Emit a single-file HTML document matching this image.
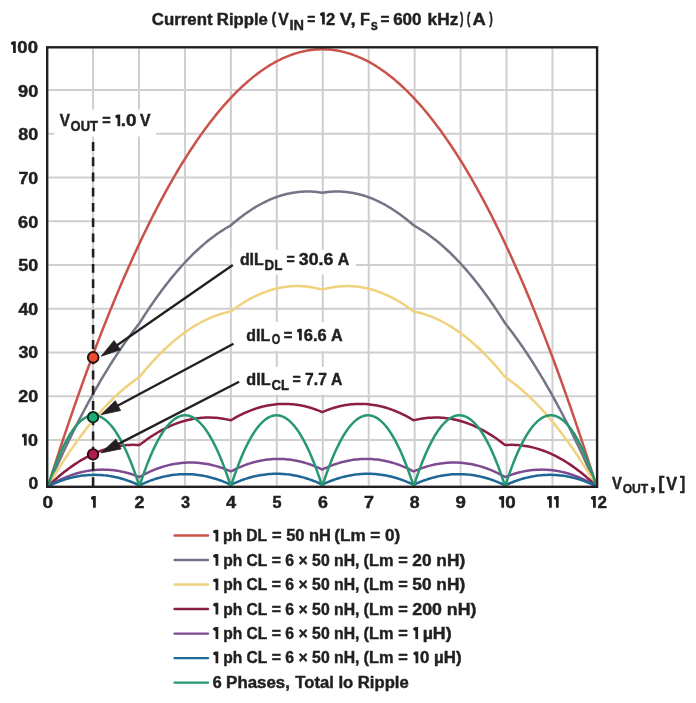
<!DOCTYPE html>
<html><head><meta charset="utf-8"><style>
html,body{margin:0;padding:0;background:#fff;width:696px;height:703px;overflow:hidden}
svg{display:block;font-family:"Liberation Sans",sans-serif}
</style></head><body>
<svg width="696" height="703" viewBox="0 0 696 703">
<rect width="696" height="703" fill="#fff"/>
<path d="M48.3 440.00H596 M48.3 396.25H596 M48.3 352.50H596 M48.3 308.75H596 M48.3 265.00H596 M48.3 221.25H596 M48.3 177.50H596 M48.3 133.75H596 M48.3 90.00H596 M93.06 48.4V485.6 M139.00 48.4V485.6 M184.94 48.4V485.6 M230.88 48.4V485.6 M276.82 48.4V485.6 M322.76 48.4V485.6 M368.70 48.4V485.6 M414.64 48.4V485.6 M460.58 48.4V485.6 M506.52 48.4V485.6 M552.46 48.4V485.6" stroke="#cfcfcf" stroke-width="2" fill="none"/>
<rect x="54.3" y="109.5" width="101.70" height="27.00" fill="#fff"/>
<rect x="231.8" y="250.0" width="124.00" height="24.50" fill="#fff"/>
<rect x="232.5" y="322.0" width="119.50" height="29.00" fill="#fff"/>
<rect x="238.0" y="367.0" width="114.00" height="27.50" fill="#fff"/>
<path d="M48.00 486.30 L49.83 480.49 L51.66 474.72 L53.49 468.99 L55.31 463.30 L57.14 457.65 L58.97 452.04 L60.80 446.47 L62.63 440.93 L64.46 435.43 L66.28 429.98 L68.11 424.56 L69.94 419.18 L71.77 413.84 L73.60 408.53 L75.43 403.27 L77.25 398.05 L79.08 392.86 L80.91 387.71 L82.74 382.60 L84.57 377.54 L86.40 372.51 L88.22 367.51 L90.05 362.56 L91.88 357.65 L93.71 352.77 L95.54 347.94 L97.37 343.14 L99.20 338.38 L101.02 333.66 L102.85 328.98 L104.68 324.34 L106.51 319.74 L108.34 315.17 L110.17 310.65 L111.99 306.16 L113.82 301.71 L115.65 297.30 L117.48 292.93 L119.31 288.60 L121.14 284.31 L122.96 280.06 L124.79 275.84 L126.62 271.67 L128.45 267.53 L130.28 263.43 L132.11 259.37 L133.93 255.35 L135.76 251.37 L137.59 247.43 L139.42 243.52 L141.25 239.66 L143.08 235.83 L144.91 232.04 L146.73 228.30 L148.56 224.59 L150.39 220.91 L152.22 217.28 L154.05 213.69 L155.88 210.14 L157.70 206.62 L159.53 203.14 L161.36 199.71 L163.19 196.31 L165.02 192.95 L166.85 189.63 L168.67 186.34 L170.50 183.10 L172.33 179.90 L174.16 176.73 L175.99 173.60 L177.82 170.51 L179.64 167.46 L181.47 164.45 L183.30 161.48 L185.13 158.55 L186.96 155.66 L188.79 152.80 L190.62 149.98 L192.44 147.21 L194.27 144.47 L196.10 141.77 L197.93 139.11 L199.76 136.49 L201.59 133.90 L203.41 131.36 L205.24 128.85 L207.07 126.39 L208.90 123.96 L210.73 121.57 L212.56 119.22 L214.38 116.91 L216.21 114.64 L218.04 112.40 L219.87 110.21 L221.70 108.05 L223.53 105.94 L225.35 103.86 L227.18 101.82 L229.01 99.82 L230.84 97.86 L232.67 95.93 L234.50 94.05 L236.33 92.20 L238.15 90.40 L239.98 88.63 L241.81 86.90 L243.64 85.21 L245.47 83.56 L247.30 81.95 L249.12 80.38 L250.95 78.84 L252.78 77.35 L254.61 75.89 L256.44 74.47 L258.27 73.09 L260.09 71.75 L261.92 70.45 L263.75 69.19 L265.58 67.96 L267.41 66.78 L269.24 65.63 L271.06 64.53 L272.89 63.46 L274.72 62.43 L276.55 61.44 L278.38 60.49 L280.21 59.57 L282.04 58.70 L283.86 57.87 L285.69 57.07 L287.52 56.31 L289.35 55.59 L291.18 54.91 L293.01 54.27 L294.83 53.67 L296.66 53.11 L298.49 52.58 L300.32 52.10 L302.15 51.65 L303.98 51.24 L305.80 50.87 L307.63 50.54 L309.46 50.25 L311.29 50.00 L313.12 49.79 L314.95 49.61 L316.77 49.47 L318.60 49.38 L320.43 49.32 L322.26 49.30 L324.09 49.32 L325.92 49.38 L327.75 49.47 L329.57 49.61 L331.40 49.79 L333.23 50.00 L335.06 50.25 L336.89 50.54 L338.72 50.87 L340.54 51.24 L342.37 51.65 L344.20 52.10 L346.03 52.58 L347.86 53.11 L349.69 53.67 L351.51 54.27 L353.34 54.91 L355.17 55.59 L357.00 56.31 L358.83 57.07 L360.66 57.87 L362.48 58.70 L364.31 59.57 L366.14 60.49 L367.97 61.44 L369.80 62.43 L371.63 63.46 L373.46 64.53 L375.28 65.63 L377.11 66.78 L378.94 67.96 L380.77 69.19 L382.60 70.45 L384.43 71.75 L386.25 73.09 L388.08 74.47 L389.91 75.89 L391.74 77.35 L393.57 78.84 L395.40 80.38 L397.22 81.95 L399.05 83.56 L400.88 85.21 L402.71 86.90 L404.54 88.63 L406.37 90.40 L408.19 92.20 L410.02 94.05 L411.85 95.93 L413.68 97.86 L415.51 99.82 L417.34 101.82 L419.17 103.86 L420.99 105.94 L422.82 108.05 L424.65 110.21 L426.48 112.40 L428.31 114.64 L430.14 116.91 L431.96 119.22 L433.79 121.57 L435.62 123.96 L437.45 126.39 L439.28 128.85 L441.11 131.36 L442.93 133.90 L444.76 136.49 L446.59 139.11 L448.42 141.77 L450.25 144.47 L452.08 147.21 L453.90 149.98 L455.73 152.80 L457.56 155.66 L459.39 158.55 L461.22 161.48 L463.05 164.45 L464.88 167.46 L466.70 170.51 L468.53 173.60 L470.36 176.73 L472.19 179.90 L474.02 183.10 L475.85 186.34 L477.67 189.63 L479.50 192.95 L481.33 196.31 L483.16 199.71 L484.99 203.14 L486.82 206.62 L488.64 210.14 L490.47 213.69 L492.30 217.28 L494.13 220.91 L495.96 224.59 L497.79 228.30 L499.61 232.04 L501.44 235.83 L503.27 239.66 L505.10 243.52 L506.93 247.43 L508.76 251.37 L510.59 255.35 L512.41 259.37 L514.24 263.43 L516.07 267.53 L517.90 271.67 L519.73 275.84 L521.56 280.06 L523.38 284.31 L525.21 288.60 L527.04 292.93 L528.87 297.30 L530.70 301.71 L532.53 306.16 L534.35 310.65 L536.18 315.17 L538.01 319.74 L539.84 324.34 L541.67 328.98 L543.50 333.66 L545.32 338.38 L547.15 343.14 L548.98 347.94 L550.81 352.77 L552.64 357.65 L554.47 362.56 L556.30 367.51 L558.12 372.51 L559.95 377.54 L561.78 382.60 L563.61 387.71 L565.44 392.86 L567.27 398.05 L569.09 403.27 L570.92 408.53 L572.75 413.84 L574.58 419.18 L576.41 424.56 L578.24 429.98 L580.06 435.43 L581.89 440.93 L583.72 446.47 L585.55 452.04 L587.38 457.65 L589.21 463.30 L591.03 468.99 L592.86 474.72 L594.69 480.49 L596.52 486.30" stroke="#c9534a" stroke-width="2.5" fill="none" stroke-linejoin="round" stroke-linecap="round"/>
<path d="M48.00 486.30 L49.83 482.09 L51.66 477.92 L53.49 473.79 L55.31 469.70 L57.14 465.65 L58.97 461.64 L60.80 457.66 L62.63 453.72 L64.46 449.83 L66.28 445.97 L68.11 442.15 L69.94 438.36 L71.77 434.62 L73.60 430.91 L75.43 427.25 L77.25 423.62 L79.08 420.03 L80.91 416.48 L82.74 412.97 L84.57 409.49 L86.40 406.06 L88.22 402.66 L90.05 399.31 L91.88 395.99 L93.71 392.71 L95.54 389.46 L97.37 386.26 L99.20 383.10 L101.02 379.97 L102.85 376.88 L104.68 373.83 L106.51 370.82 L108.34 367.85 L110.17 364.92 L111.99 362.03 L113.82 359.17 L115.65 356.35 L117.48 353.57 L119.31 350.84 L121.14 348.13 L122.96 345.47 L124.79 342.85 L126.62 340.26 L128.45 337.72 L130.28 335.21 L132.11 332.74 L133.93 330.31 L135.76 327.91 L137.59 325.56 L139.42 323.25 L141.25 320.34 L143.08 317.48 L144.91 314.65 L146.73 311.87 L148.56 309.12 L150.39 306.41 L152.22 303.74 L154.05 301.11 L155.88 298.51 L157.70 295.96 L159.53 293.44 L161.36 290.96 L163.19 288.52 L165.02 286.12 L166.85 283.76 L168.67 281.44 L170.50 279.15 L172.33 276.91 L174.16 274.70 L175.99 272.53 L177.82 270.40 L179.64 268.31 L181.47 266.25 L183.30 264.24 L185.13 262.26 L186.96 260.33 L188.79 258.43 L190.62 256.57 L192.44 254.74 L194.27 252.96 L196.10 251.22 L197.93 249.51 L199.76 247.85 L201.59 246.22 L203.41 244.63 L205.24 243.08 L207.07 241.56 L208.90 240.09 L210.73 238.65 L212.56 237.26 L214.38 235.90 L216.21 234.58 L218.04 233.30 L219.87 232.06 L221.70 230.85 L223.53 229.69 L225.35 228.56 L227.18 227.47 L229.01 226.42 L230.84 225.41 L232.67 223.81 L234.50 222.25 L236.33 220.73 L238.15 219.25 L239.98 217.81 L241.81 216.40 L243.64 215.04 L245.47 213.71 L247.30 212.42 L249.12 211.17 L250.95 209.96 L252.78 208.78 L254.61 207.65 L256.44 206.55 L258.27 205.49 L260.09 204.47 L261.92 203.49 L263.75 202.55 L265.58 201.65 L267.41 200.78 L269.24 199.96 L271.06 199.17 L272.89 198.42 L274.72 197.71 L276.55 197.04 L278.38 196.41 L280.21 195.81 L282.04 195.26 L283.86 194.74 L285.69 194.26 L287.52 193.82 L289.35 193.42 L291.18 193.06 L293.01 192.73 L294.83 192.45 L296.66 192.20 L298.49 191.99 L300.32 191.82 L302.15 191.69 L303.98 191.60 L305.80 191.55 L307.63 191.53 L309.46 191.56 L311.29 191.62 L313.12 191.72 L314.95 191.86 L316.77 192.04 L318.60 192.25 L320.43 192.51 L322.26 192.80 L324.09 192.51 L325.92 192.25 L327.75 192.04 L329.57 191.86 L331.40 191.72 L333.23 191.62 L335.06 191.56 L336.89 191.53 L338.72 191.55 L340.54 191.60 L342.37 191.69 L344.20 191.82 L346.03 191.99 L347.86 192.20 L349.69 192.45 L351.51 192.73 L353.34 193.06 L355.17 193.42 L357.00 193.82 L358.83 194.26 L360.66 194.74 L362.48 195.26 L364.31 195.81 L366.14 196.41 L367.97 197.04 L369.80 197.71 L371.63 198.42 L373.46 199.17 L375.28 199.96 L377.11 200.78 L378.94 201.65 L380.77 202.55 L382.60 203.49 L384.43 204.47 L386.25 205.49 L388.08 206.55 L389.91 207.65 L391.74 208.78 L393.57 209.96 L395.40 211.17 L397.22 212.42 L399.05 213.71 L400.88 215.04 L402.71 216.40 L404.54 217.81 L406.37 219.25 L408.19 220.73 L410.02 222.25 L411.85 223.81 L413.68 225.41 L415.51 226.42 L417.34 227.47 L419.17 228.56 L420.99 229.69 L422.82 230.85 L424.65 232.06 L426.48 233.30 L428.31 234.58 L430.14 235.90 L431.96 237.26 L433.79 238.65 L435.62 240.09 L437.45 241.56 L439.28 243.08 L441.11 244.63 L442.93 246.22 L444.76 247.85 L446.59 249.51 L448.42 251.22 L450.25 252.96 L452.08 254.74 L453.90 256.57 L455.73 258.43 L457.56 260.33 L459.39 262.26 L461.22 264.24 L463.05 266.25 L464.88 268.31 L466.70 270.40 L468.53 272.53 L470.36 274.70 L472.19 276.91 L474.02 279.15 L475.85 281.44 L477.67 283.76 L479.50 286.12 L481.33 288.52 L483.16 290.96 L484.99 293.44 L486.82 295.96 L488.64 298.51 L490.47 301.11 L492.30 303.74 L494.13 306.41 L495.96 309.12 L497.79 311.87 L499.61 314.65 L501.44 317.48 L503.27 320.34 L505.10 323.25 L506.93 325.56 L508.76 327.91 L510.59 330.31 L512.41 332.74 L514.24 335.21 L516.07 337.72 L517.90 340.26 L519.73 342.85 L521.56 345.47 L523.38 348.13 L525.21 350.84 L527.04 353.57 L528.87 356.35 L530.70 359.17 L532.53 362.03 L534.35 364.92 L536.18 367.85 L538.01 370.82 L539.84 373.83 L541.67 376.88 L543.50 379.97 L545.32 383.10 L547.15 386.26 L548.98 389.46 L550.81 392.71 L552.64 395.99 L554.47 399.31 L556.30 402.66 L558.12 406.06 L559.95 409.49 L561.78 412.97 L563.61 416.48 L565.44 420.03 L567.27 423.62 L569.09 427.25 L570.92 430.91 L572.75 434.62 L574.58 438.36 L576.41 442.15 L578.24 445.97 L580.06 449.83 L581.89 453.72 L583.72 457.66 L585.55 461.64 L587.38 465.65 L589.21 469.70 L591.03 473.79 L592.86 477.92 L594.69 482.09 L596.52 486.30" stroke="#737584" stroke-width="2.5" fill="none" stroke-linejoin="round" stroke-linecap="round"/>
<path d="M48.00 486.30 L49.83 483.17 L51.66 480.08 L53.49 477.03 L55.31 474.02 L57.14 471.05 L58.97 468.11 L60.80 465.22 L62.63 462.36 L64.46 459.54 L66.28 456.76 L68.11 454.02 L69.94 451.31 L71.77 448.65 L73.60 446.02 L75.43 443.43 L77.25 440.88 L79.08 438.37 L80.91 435.89 L82.74 433.46 L84.57 431.06 L86.40 428.71 L88.22 426.39 L90.05 424.10 L91.88 421.86 L93.71 419.66 L95.54 417.49 L97.37 415.36 L99.20 413.28 L101.02 411.23 L102.85 409.21 L104.68 407.24 L106.51 405.30 L108.34 403.41 L110.17 401.55 L111.99 399.73 L113.82 397.95 L115.65 396.21 L117.48 394.50 L119.31 392.84 L121.14 391.21 L122.96 389.62 L124.79 388.07 L126.62 386.56 L128.45 385.08 L130.28 383.65 L132.11 382.25 L133.93 380.89 L135.76 379.57 L137.59 378.29 L139.42 377.05 L141.25 374.80 L143.08 372.58 L144.91 370.41 L146.73 368.27 L148.56 366.17 L150.39 364.11 L152.22 362.09 L154.05 360.10 L155.88 358.16 L157.70 356.25 L159.53 354.38 L161.36 352.55 L163.19 350.76 L165.02 349.01 L166.85 347.29 L168.67 345.61 L170.50 343.98 L172.33 342.38 L174.16 340.82 L175.99 339.29 L177.82 337.81 L179.64 336.36 L181.47 334.96 L183.30 333.59 L185.13 332.26 L186.96 330.97 L188.79 329.71 L190.62 328.50 L192.44 327.32 L194.27 326.18 L196.10 325.08 L197.93 324.02 L199.76 323.00 L201.59 322.02 L203.41 321.07 L205.24 320.16 L207.07 319.29 L208.90 318.46 L210.73 317.67 L212.56 316.92 L214.38 316.20 L216.21 315.53 L218.04 314.89 L219.87 314.29 L221.70 313.73 L223.53 313.21 L225.35 312.72 L227.18 312.28 L229.01 311.87 L230.84 311.50 L232.67 310.12 L234.50 308.78 L236.33 307.48 L238.15 306.21 L239.98 304.99 L241.81 303.80 L243.64 302.65 L245.47 301.54 L247.30 300.47 L249.12 299.44 L250.95 298.44 L252.78 297.49 L254.61 296.57 L256.44 295.69 L258.27 294.85 L260.09 294.05 L261.92 293.28 L263.75 292.56 L265.58 291.87 L267.41 291.22 L269.24 290.61 L271.06 290.04 L272.89 289.51 L274.72 289.01 L276.55 288.56 L278.38 288.14 L280.21 287.76 L282.04 287.42 L283.86 287.12 L285.69 286.85 L287.52 286.63 L289.35 286.44 L291.18 286.29 L293.01 286.18 L294.83 286.11 L296.66 286.08 L298.49 286.08 L300.32 286.13 L302.15 286.21 L303.98 286.33 L305.80 286.49 L307.63 286.69 L309.46 286.92 L311.29 287.20 L313.12 287.51 L314.95 287.86 L316.77 288.25 L318.60 288.68 L320.43 289.14 L322.26 289.65 L324.09 289.14 L325.92 288.68 L327.75 288.25 L329.57 287.86 L331.40 287.51 L333.23 287.20 L335.06 286.92 L336.89 286.69 L338.72 286.49 L340.54 286.33 L342.37 286.21 L344.20 286.13 L346.03 286.08 L347.86 286.08 L349.69 286.11 L351.51 286.18 L353.34 286.29 L355.17 286.44 L357.00 286.63 L358.83 286.85 L360.66 287.12 L362.48 287.42 L364.31 287.76 L366.14 288.14 L367.97 288.56 L369.80 289.01 L371.63 289.51 L373.46 290.04 L375.28 290.61 L377.11 291.22 L378.94 291.87 L380.77 292.56 L382.60 293.28 L384.43 294.05 L386.25 294.85 L388.08 295.69 L389.91 296.57 L391.74 297.49 L393.57 298.44 L395.40 299.44 L397.22 300.47 L399.05 301.54 L400.88 302.65 L402.71 303.80 L404.54 304.99 L406.37 306.21 L408.19 307.48 L410.02 308.78 L411.85 310.12 L413.68 311.50 L415.51 311.87 L417.34 312.28 L419.17 312.72 L420.99 313.21 L422.82 313.73 L424.65 314.29 L426.48 314.89 L428.31 315.53 L430.14 316.20 L431.96 316.92 L433.79 317.67 L435.62 318.46 L437.45 319.29 L439.28 320.16 L441.11 321.07 L442.93 322.02 L444.76 323.00 L446.59 324.02 L448.42 325.08 L450.25 326.18 L452.08 327.32 L453.90 328.50 L455.73 329.71 L457.56 330.97 L459.39 332.26 L461.22 333.59 L463.05 334.96 L464.88 336.36 L466.70 337.81 L468.53 339.29 L470.36 340.82 L472.19 342.38 L474.02 343.98 L475.85 345.61 L477.67 347.29 L479.50 349.01 L481.33 350.76 L483.16 352.55 L484.99 354.38 L486.82 356.25 L488.64 358.16 L490.47 360.10 L492.30 362.09 L494.13 364.11 L495.96 366.17 L497.79 368.27 L499.61 370.41 L501.44 372.58 L503.27 374.80 L505.10 377.05 L506.93 378.29 L508.76 379.57 L510.59 380.89 L512.41 382.25 L514.24 383.65 L516.07 385.08 L517.90 386.56 L519.73 388.07 L521.56 389.62 L523.38 391.21 L525.21 392.84 L527.04 394.50 L528.87 396.21 L530.70 397.95 L532.53 399.73 L534.35 401.55 L536.18 403.41 L538.01 405.30 L539.84 407.24 L541.67 409.21 L543.50 411.23 L545.32 413.28 L547.15 415.36 L548.98 417.49 L550.81 419.66 L552.64 421.86 L554.47 424.10 L556.30 426.39 L558.12 428.71 L559.95 431.06 L561.78 433.46 L563.61 435.89 L565.44 438.37 L567.27 440.88 L569.09 443.43 L570.92 446.02 L572.75 448.65 L574.58 451.31 L576.41 454.02 L578.24 456.76 L580.06 459.54 L581.89 462.36 L583.72 465.22 L585.55 468.11 L587.38 471.05 L589.21 474.02 L591.03 477.03 L592.86 480.08 L594.69 483.17 L596.52 486.30" stroke="#f1d27c" stroke-width="2.5" fill="none" stroke-linejoin="round" stroke-linecap="round"/>
<path d="M48.00 486.30 L49.83 484.54 L51.66 482.81 L53.49 481.13 L55.31 479.48 L57.14 477.87 L58.97 476.30 L60.80 474.77 L62.63 473.28 L64.46 471.82 L66.28 470.40 L68.11 469.02 L69.94 467.68 L71.77 466.38 L73.60 465.11 L75.43 463.89 L77.25 462.70 L79.08 461.55 L80.91 460.44 L82.74 459.36 L84.57 458.33 L86.40 457.33 L88.22 456.37 L90.05 455.45 L91.88 454.57 L93.71 453.73 L95.54 452.92 L97.37 452.16 L99.20 451.43 L101.02 450.74 L102.85 450.08 L104.68 449.47 L106.51 448.89 L108.34 448.36 L110.17 447.86 L111.99 447.40 L113.82 446.97 L115.65 446.59 L117.48 446.24 L119.31 445.93 L121.14 445.66 L122.96 445.43 L124.79 445.24 L126.62 445.08 L128.45 444.97 L130.28 444.89 L132.11 444.85 L133.93 444.85 L135.76 444.88 L137.59 444.96 L139.42 445.07 L141.25 443.64 L143.08 442.24 L144.91 440.89 L146.73 439.57 L148.56 438.29 L150.39 437.05 L152.22 435.85 L154.05 434.68 L155.88 433.56 L157.70 432.47 L159.53 431.42 L161.36 430.41 L163.19 429.44 L165.02 428.50 L166.85 427.60 L168.67 426.75 L170.50 425.93 L172.33 425.14 L174.16 424.40 L175.99 423.70 L177.82 423.03 L179.64 422.40 L181.47 421.81 L183.30 421.26 L185.13 420.74 L186.96 420.27 L188.79 419.83 L190.62 419.43 L192.44 419.07 L194.27 418.75 L196.10 418.46 L197.93 418.22 L199.76 418.01 L201.59 417.84 L203.41 417.71 L205.24 417.62 L207.07 417.56 L208.90 417.54 L210.73 417.57 L212.56 417.63 L214.38 417.72 L216.21 417.86 L218.04 418.04 L219.87 418.25 L221.70 418.50 L223.53 418.79 L225.35 419.12 L227.18 419.48 L229.01 419.89 L230.84 420.33 L232.67 419.23 L234.50 418.17 L236.33 417.14 L238.15 416.15 L239.98 415.20 L241.81 414.29 L243.64 413.42 L245.47 412.58 L247.30 411.79 L249.12 411.03 L250.95 410.31 L252.78 409.63 L254.61 408.99 L256.44 408.38 L258.27 407.81 L260.09 407.29 L261.92 406.80 L263.75 406.34 L265.58 405.93 L267.41 405.55 L269.24 405.22 L271.06 404.92 L272.89 404.66 L274.72 404.44 L276.55 404.25 L278.38 404.11 L280.21 404.00 L282.04 403.93 L283.86 403.90 L285.69 403.91 L287.52 403.95 L289.35 404.03 L291.18 404.16 L293.01 404.32 L294.83 404.52 L296.66 404.75 L298.49 405.03 L300.32 405.34 L302.15 405.69 L303.98 406.08 L305.80 406.51 L307.63 406.98 L309.46 407.48 L311.29 408.02 L313.12 408.61 L314.95 409.22 L316.77 409.88 L318.60 410.58 L320.43 411.31 L322.26 412.09 L324.09 411.31 L325.92 410.58 L327.75 409.88 L329.57 409.22 L331.40 408.61 L333.23 408.02 L335.06 407.48 L336.89 406.98 L338.72 406.51 L340.54 406.08 L342.37 405.69 L344.20 405.34 L346.03 405.03 L347.86 404.75 L349.69 404.52 L351.51 404.32 L353.34 404.16 L355.17 404.03 L357.00 403.95 L358.83 403.91 L360.66 403.90 L362.48 403.93 L364.31 404.00 L366.14 404.11 L367.97 404.25 L369.80 404.44 L371.63 404.66 L373.46 404.92 L375.28 405.22 L377.11 405.55 L378.94 405.93 L380.77 406.34 L382.60 406.80 L384.43 407.29 L386.25 407.81 L388.08 408.38 L389.91 408.99 L391.74 409.63 L393.57 410.31 L395.40 411.03 L397.22 411.79 L399.05 412.58 L400.88 413.42 L402.71 414.29 L404.54 415.20 L406.37 416.15 L408.19 417.14 L410.02 418.17 L411.85 419.23 L413.68 420.33 L415.51 419.89 L417.34 419.48 L419.17 419.12 L420.99 418.79 L422.82 418.50 L424.65 418.25 L426.48 418.04 L428.31 417.86 L430.14 417.72 L431.96 417.63 L433.79 417.57 L435.62 417.54 L437.45 417.56 L439.28 417.62 L441.11 417.71 L442.93 417.84 L444.76 418.01 L446.59 418.22 L448.42 418.46 L450.25 418.75 L452.08 419.07 L453.90 419.43 L455.73 419.83 L457.56 420.27 L459.39 420.74 L461.22 421.26 L463.05 421.81 L464.88 422.40 L466.70 423.03 L468.53 423.70 L470.36 424.40 L472.19 425.14 L474.02 425.93 L475.85 426.75 L477.67 427.60 L479.50 428.50 L481.33 429.44 L483.16 430.41 L484.99 431.42 L486.82 432.47 L488.64 433.56 L490.47 434.68 L492.30 435.85 L494.13 437.05 L495.96 438.29 L497.79 439.57 L499.61 440.89 L501.44 442.24 L503.27 443.64 L505.10 445.07 L506.93 444.96 L508.76 444.88 L510.59 444.85 L512.41 444.85 L514.24 444.89 L516.07 444.97 L517.90 445.08 L519.73 445.24 L521.56 445.43 L523.38 445.66 L525.21 445.93 L527.04 446.24 L528.87 446.59 L530.70 446.97 L532.53 447.40 L534.35 447.86 L536.18 448.36 L538.01 448.89 L539.84 449.47 L541.67 450.08 L543.50 450.74 L545.32 451.43 L547.15 452.16 L548.98 452.92 L550.81 453.73 L552.64 454.57 L554.47 455.45 L556.30 456.37 L558.12 457.33 L559.95 458.33 L561.78 459.36 L563.61 460.44 L565.44 461.55 L567.27 462.70 L569.09 463.89 L570.92 465.11 L572.75 466.38 L574.58 467.68 L576.41 469.02 L578.24 470.40 L580.06 471.82 L581.89 473.28 L583.72 474.77 L585.55 476.30 L587.38 477.87 L589.21 479.48 L591.03 481.13 L592.86 482.81 L594.69 484.54 L596.52 486.30" stroke="#8c1e42" stroke-width="2.5" fill="none" stroke-linejoin="round" stroke-linecap="round"/>
<path d="M48.00 486.30 L49.83 485.21 L51.66 484.15 L53.49 483.13 L55.31 482.15 L57.14 481.20 L58.97 480.29 L60.80 479.42 L62.63 478.58 L64.46 477.79 L66.28 477.03 L68.11 476.30 L69.94 475.62 L71.77 474.97 L73.60 474.35 L75.43 473.78 L77.25 473.24 L79.08 472.74 L80.91 472.28 L82.74 471.85 L84.57 471.46 L86.40 471.11 L88.22 470.79 L90.05 470.52 L91.88 470.27 L93.71 470.07 L95.54 469.90 L97.37 469.77 L99.20 469.68 L101.02 469.63 L102.85 469.61 L104.68 469.63 L106.51 469.68 L108.34 469.77 L110.17 469.90 L111.99 470.07 L113.82 470.27 L115.65 470.52 L117.48 470.79 L119.31 471.11 L121.14 471.46 L122.96 471.85 L124.79 472.28 L126.62 472.74 L128.45 473.24 L130.28 473.78 L132.11 474.35 L133.93 474.97 L135.76 475.62 L137.59 476.30 L139.42 477.03 L141.25 476.01 L143.08 475.02 L144.91 474.08 L146.73 473.17 L148.56 472.30 L150.39 471.46 L152.22 470.66 L154.05 469.90 L155.88 469.18 L157.70 468.49 L159.53 467.84 L161.36 467.23 L163.19 466.66 L165.02 466.12 L166.85 465.62 L168.67 465.16 L170.50 464.73 L172.33 464.34 L174.16 463.99 L175.99 463.67 L177.82 463.39 L179.64 463.15 L181.47 462.95 L183.30 462.78 L185.13 462.65 L186.96 462.56 L188.79 462.50 L190.62 462.48 L192.44 462.50 L194.27 462.56 L196.10 462.65 L197.93 462.78 L199.76 462.95 L201.59 463.15 L203.41 463.39 L205.24 463.67 L207.07 463.99 L208.90 464.34 L210.73 464.73 L212.56 465.16 L214.38 465.62 L216.21 466.12 L218.04 466.66 L219.87 467.23 L221.70 467.84 L223.53 468.49 L225.35 469.18 L227.18 469.90 L229.01 470.66 L230.84 471.46 L232.67 470.52 L234.50 469.61 L236.33 468.73 L238.15 467.90 L239.98 467.10 L241.81 466.34 L243.64 465.62 L245.47 464.93 L247.30 464.28 L249.12 463.67 L250.95 463.10 L252.78 462.56 L254.61 462.06 L256.44 461.59 L258.27 461.17 L260.09 460.78 L261.92 460.43 L263.75 460.11 L265.58 459.83 L267.41 459.59 L269.24 459.39 L271.06 459.22 L272.89 459.09 L274.72 459.00 L276.55 458.94 L278.38 458.92 L280.21 458.94 L282.04 459.00 L283.86 459.09 L285.69 459.22 L287.52 459.39 L289.35 459.59 L291.18 459.83 L293.01 460.11 L294.83 460.43 L296.66 460.78 L298.49 461.17 L300.32 461.59 L302.15 462.06 L303.98 462.56 L305.80 463.10 L307.63 463.67 L309.46 464.28 L311.29 464.93 L313.12 465.62 L314.95 466.34 L316.77 467.10 L318.60 467.90 L320.43 468.73 L322.26 469.61 L324.09 468.73 L325.92 467.90 L327.75 467.10 L329.57 466.34 L331.40 465.62 L333.23 464.93 L335.06 464.28 L336.89 463.67 L338.72 463.10 L340.54 462.56 L342.37 462.06 L344.20 461.59 L346.03 461.17 L347.86 460.78 L349.69 460.43 L351.51 460.11 L353.34 459.83 L355.17 459.59 L357.00 459.39 L358.83 459.22 L360.66 459.09 L362.48 459.00 L364.31 458.94 L366.14 458.92 L367.97 458.94 L369.80 459.00 L371.63 459.09 L373.46 459.22 L375.28 459.39 L377.11 459.59 L378.94 459.83 L380.77 460.11 L382.60 460.43 L384.43 460.78 L386.25 461.17 L388.08 461.59 L389.91 462.06 L391.74 462.56 L393.57 463.10 L395.40 463.67 L397.22 464.28 L399.05 464.93 L400.88 465.62 L402.71 466.34 L404.54 467.10 L406.37 467.90 L408.19 468.73 L410.02 469.61 L411.85 470.52 L413.68 471.46 L415.51 470.66 L417.34 469.90 L419.17 469.18 L420.99 468.49 L422.82 467.84 L424.65 467.23 L426.48 466.66 L428.31 466.12 L430.14 465.62 L431.96 465.16 L433.79 464.73 L435.62 464.34 L437.45 463.99 L439.28 463.67 L441.11 463.39 L442.93 463.15 L444.76 462.95 L446.59 462.78 L448.42 462.65 L450.25 462.56 L452.08 462.50 L453.90 462.48 L455.73 462.50 L457.56 462.56 L459.39 462.65 L461.22 462.78 L463.05 462.95 L464.88 463.15 L466.70 463.39 L468.53 463.67 L470.36 463.99 L472.19 464.34 L474.02 464.73 L475.85 465.16 L477.67 465.62 L479.50 466.12 L481.33 466.66 L483.16 467.23 L484.99 467.84 L486.82 468.49 L488.64 469.18 L490.47 469.90 L492.30 470.66 L494.13 471.46 L495.96 472.30 L497.79 473.17 L499.61 474.08 L501.44 475.02 L503.27 476.01 L505.10 477.03 L506.93 476.30 L508.76 475.62 L510.59 474.97 L512.41 474.35 L514.24 473.78 L516.07 473.24 L517.90 472.74 L519.73 472.28 L521.56 471.85 L523.38 471.46 L525.21 471.11 L527.04 470.79 L528.87 470.52 L530.70 470.27 L532.53 470.07 L534.35 469.90 L536.18 469.77 L538.01 469.68 L539.84 469.63 L541.67 469.61 L543.50 469.63 L545.32 469.68 L547.15 469.77 L548.98 469.90 L550.81 470.07 L552.64 470.27 L554.47 470.52 L556.30 470.79 L558.12 471.11 L559.95 471.46 L561.78 471.85 L563.61 472.28 L565.44 472.74 L567.27 473.24 L569.09 473.78 L570.92 474.35 L572.75 474.97 L574.58 475.62 L576.41 476.30 L578.24 477.03 L580.06 477.79 L581.89 478.58 L583.72 479.42 L585.55 480.29 L587.38 481.20 L589.21 482.15 L591.03 483.13 L592.86 484.15 L594.69 485.21 L596.52 486.30" stroke="#7e4b92" stroke-width="2.5" fill="none" stroke-linejoin="round" stroke-linecap="round"/>
<path d="M48.00 486.30 L49.83 485.42 L51.66 484.58 L53.49 483.77 L55.31 482.99 L57.14 482.25 L58.97 481.55 L60.80 480.88 L62.63 480.25 L64.46 479.65 L66.28 479.09 L68.11 478.56 L69.94 478.07 L71.77 477.61 L73.60 477.19 L75.43 476.80 L77.25 476.45 L79.08 476.13 L80.91 475.85 L82.74 475.60 L84.57 475.39 L86.40 475.21 L88.22 475.07 L90.05 474.97 L91.88 474.89 L93.71 474.86 L95.54 474.86 L97.37 474.89 L99.20 474.96 L101.02 475.07 L102.85 475.21 L104.68 475.38 L106.51 475.59 L108.34 475.84 L110.17 476.12 L111.99 476.43 L113.82 476.78 L115.65 477.17 L117.48 477.59 L119.31 478.05 L121.14 478.54 L122.96 479.07 L124.79 479.63 L126.62 480.23 L128.45 480.86 L130.28 481.52 L132.11 482.23 L133.93 482.96 L135.76 483.74 L137.59 484.55 L139.42 485.39 L141.25 484.52 L143.08 483.68 L144.91 482.88 L146.73 482.11 L148.56 481.38 L150.39 480.68 L152.22 480.02 L154.05 479.39 L155.88 478.80 L157.70 478.25 L159.53 477.73 L161.36 477.24 L163.19 476.79 L165.02 476.38 L166.85 476.00 L168.67 475.65 L170.50 475.34 L172.33 475.07 L174.16 474.83 L175.99 474.62 L177.82 474.45 L179.64 474.32 L181.47 474.22 L183.30 474.16 L185.13 474.13 L186.96 474.14 L188.79 474.18 L190.62 474.25 L192.44 474.37 L194.27 474.51 L196.10 474.70 L197.93 474.91 L199.76 475.17 L201.59 475.45 L203.41 475.78 L205.24 476.14 L207.07 476.53 L208.90 476.96 L210.73 477.42 L212.56 477.92 L214.38 478.45 L216.21 479.02 L218.04 479.63 L219.87 480.27 L221.70 480.94 L223.53 481.65 L225.35 482.40 L227.18 483.18 L229.01 483.99 L230.84 484.84 L232.67 483.98 L234.50 483.15 L236.33 482.35 L238.15 481.59 L239.98 480.87 L241.81 480.18 L243.64 479.53 L245.47 478.91 L247.30 478.32 L249.12 477.77 L250.95 477.26 L252.78 476.78 L254.61 476.34 L256.44 475.93 L258.27 475.56 L260.09 475.22 L261.92 474.92 L263.75 474.65 L265.58 474.42 L267.41 474.22 L269.24 474.06 L271.06 473.93 L272.89 473.84 L274.72 473.79 L276.55 473.76 L278.38 473.78 L280.21 473.83 L282.04 473.91 L283.86 474.03 L285.69 474.19 L287.52 474.38 L289.35 474.60 L291.18 474.86 L293.01 475.16 L294.83 475.49 L296.66 475.85 L298.49 476.25 L300.32 476.69 L302.15 477.16 L303.98 477.66 L305.80 478.21 L307.63 478.78 L309.46 479.39 L311.29 480.04 L313.12 480.72 L314.95 481.44 L316.77 482.19 L318.60 482.98 L320.43 483.80 L322.26 484.66 L324.09 483.80 L325.92 482.98 L327.75 482.19 L329.57 481.44 L331.40 480.72 L333.23 480.04 L335.06 479.39 L336.89 478.78 L338.72 478.21 L340.54 477.66 L342.37 477.16 L344.20 476.69 L346.03 476.25 L347.86 475.85 L349.69 475.49 L351.51 475.16 L353.34 474.86 L355.17 474.60 L357.00 474.38 L358.83 474.19 L360.66 474.03 L362.48 473.91 L364.31 473.83 L366.14 473.78 L367.97 473.76 L369.80 473.79 L371.63 473.84 L373.46 473.93 L375.28 474.06 L377.11 474.22 L378.94 474.42 L380.77 474.65 L382.60 474.92 L384.43 475.22 L386.25 475.56 L388.08 475.93 L389.91 476.34 L391.74 476.78 L393.57 477.26 L395.40 477.77 L397.22 478.32 L399.05 478.91 L400.88 479.53 L402.71 480.18 L404.54 480.87 L406.37 481.59 L408.19 482.35 L410.02 483.15 L411.85 483.98 L413.68 484.84 L415.51 483.99 L417.34 483.18 L419.17 482.40 L420.99 481.65 L422.82 480.94 L424.65 480.27 L426.48 479.63 L428.31 479.02 L430.14 478.45 L431.96 477.92 L433.79 477.42 L435.62 476.96 L437.45 476.53 L439.28 476.14 L441.11 475.78 L442.93 475.45 L444.76 475.17 L446.59 474.91 L448.42 474.70 L450.25 474.51 L452.08 474.37 L453.90 474.25 L455.73 474.18 L457.56 474.14 L459.39 474.13 L461.22 474.16 L463.05 474.22 L464.88 474.32 L466.70 474.45 L468.53 474.62 L470.36 474.83 L472.19 475.07 L474.02 475.34 L475.85 475.65 L477.67 476.00 L479.50 476.38 L481.33 476.79 L483.16 477.24 L484.99 477.73 L486.82 478.25 L488.64 478.80 L490.47 479.39 L492.30 480.02 L494.13 480.68 L495.96 481.38 L497.79 482.11 L499.61 482.88 L501.44 483.68 L503.27 484.52 L505.10 485.39 L506.93 484.55 L508.76 483.74 L510.59 482.96 L512.41 482.23 L514.24 481.52 L516.07 480.86 L517.90 480.23 L519.73 479.63 L521.56 479.07 L523.38 478.54 L525.21 478.05 L527.04 477.59 L528.87 477.17 L530.70 476.78 L532.53 476.43 L534.35 476.12 L536.18 475.84 L538.01 475.59 L539.84 475.38 L541.67 475.21 L543.50 475.07 L545.32 474.96 L547.15 474.89 L548.98 474.86 L550.81 474.86 L552.64 474.89 L554.47 474.97 L556.30 475.07 L558.12 475.21 L559.95 475.39 L561.78 475.60 L563.61 475.85 L565.44 476.13 L567.27 476.45 L569.09 476.80 L570.92 477.19 L572.75 477.61 L574.58 478.07 L576.41 478.56 L578.24 479.09 L580.06 479.65 L581.89 480.25 L583.72 480.88 L585.55 481.55 L587.38 482.25 L589.21 482.99 L591.03 483.77 L592.86 484.58 L594.69 485.42 L596.52 486.30" stroke="#1f6796" stroke-width="2.5" fill="none" stroke-linejoin="round" stroke-linecap="round"/>
<path d="M48.00 486.30 L48.91 483.49 L49.83 480.73 L50.74 478.03 L51.66 475.39 L52.57 472.81 L53.49 470.28 L54.40 467.81 L55.31 465.39 L56.23 463.04 L57.14 460.74 L58.06 458.49 L58.97 456.30 L59.88 454.17 L60.80 452.10 L61.71 450.08 L62.63 448.12 L63.54 446.22 L64.46 444.37 L65.37 442.58 L66.28 440.85 L67.20 439.18 L68.11 437.56 L69.03 435.99 L69.94 434.49 L70.86 433.04 L71.77 431.65 L72.68 430.31 L73.60 429.04 L74.51 427.81 L75.43 426.65 L76.34 425.54 L77.25 424.49 L78.17 423.50 L79.08 422.56 L80.00 421.68 L80.91 420.85 L81.83 420.09 L82.74 419.38 L83.65 418.72 L84.57 418.13 L85.48 417.59 L86.40 417.11 L87.31 416.68 L88.22 416.31 L89.14 416.00 L90.05 415.74 L90.97 415.54 L91.88 415.40 L92.80 415.32 L93.71 415.29 L94.62 415.32 L95.54 415.40 L96.45 415.54 L97.37 415.74 L98.28 416.00 L99.20 416.31 L100.11 416.68 L101.02 417.11 L101.94 417.59 L102.85 418.13 L103.77 418.72 L104.68 419.38 L105.59 420.09 L106.51 420.85 L107.42 421.68 L108.34 422.56 L109.25 423.50 L110.17 424.49 L111.08 425.54 L111.99 426.65 L112.91 427.81 L113.82 429.04 L114.74 430.31 L115.65 431.65 L116.56 433.04 L117.48 434.49 L118.39 435.99 L119.31 437.56 L120.22 439.18 L121.14 440.85 L122.05 442.58 L122.96 444.37 L123.88 446.22 L124.79 448.12 L125.71 450.08 L126.62 452.10 L127.54 454.17 L128.45 456.30 L129.36 458.49 L130.28 460.74 L131.19 463.04 L132.11 465.39 L133.02 467.81 L133.93 470.28 L134.85 472.81 L135.76 475.39 L136.68 478.03 L137.59 480.73 L138.51 483.49 L139.42 486.30 L140.33 483.49 L141.25 480.73 L142.16 478.03 L143.08 475.39 L143.99 472.81 L144.91 470.28 L145.82 467.81 L146.73 465.39 L147.65 463.04 L148.56 460.74 L149.48 458.49 L150.39 456.30 L151.30 454.17 L152.22 452.10 L153.13 450.08 L154.05 448.12 L154.96 446.22 L155.88 444.37 L156.79 442.58 L157.70 440.85 L158.62 439.18 L159.53 437.56 L160.45 435.99 L161.36 434.49 L162.28 433.04 L163.19 431.65 L164.10 430.31 L165.02 429.04 L165.93 427.81 L166.85 426.65 L167.76 425.54 L168.67 424.49 L169.59 423.50 L170.50 422.56 L171.42 421.68 L172.33 420.85 L173.25 420.09 L174.16 419.38 L175.07 418.72 L175.99 418.13 L176.90 417.59 L177.82 417.11 L178.73 416.68 L179.64 416.31 L180.56 416.00 L181.47 415.74 L182.39 415.54 L183.30 415.40 L184.22 415.32 L185.13 415.29 L186.04 415.32 L186.96 415.40 L187.87 415.54 L188.79 415.74 L189.70 416.00 L190.62 416.31 L191.53 416.68 L192.44 417.11 L193.36 417.59 L194.27 418.13 L195.19 418.72 L196.10 419.38 L197.01 420.09 L197.93 420.85 L198.84 421.68 L199.76 422.56 L200.67 423.50 L201.59 424.49 L202.50 425.54 L203.41 426.65 L204.33 427.81 L205.24 429.04 L206.16 430.31 L207.07 431.65 L207.99 433.04 L208.90 434.49 L209.81 435.99 L210.73 437.56 L211.64 439.18 L212.56 440.85 L213.47 442.58 L214.38 444.37 L215.30 446.22 L216.21 448.12 L217.13 450.08 L218.04 452.10 L218.96 454.17 L219.87 456.30 L220.78 458.49 L221.70 460.74 L222.61 463.04 L223.53 465.39 L224.44 467.81 L225.35 470.28 L226.27 472.81 L227.18 475.39 L228.10 478.03 L229.01 480.73 L229.93 483.49 L230.84 486.30 L231.75 483.49 L232.67 480.73 L233.58 478.03 L234.50 475.39 L235.41 472.81 L236.33 470.28 L237.24 467.81 L238.15 465.39 L239.07 463.04 L239.98 460.74 L240.90 458.49 L241.81 456.30 L242.72 454.17 L243.64 452.10 L244.55 450.08 L245.47 448.12 L246.38 446.22 L247.30 444.37 L248.21 442.58 L249.12 440.85 L250.04 439.18 L250.95 437.56 L251.87 435.99 L252.78 434.49 L253.69 433.04 L254.61 431.65 L255.52 430.31 L256.44 429.04 L257.35 427.81 L258.27 426.65 L259.18 425.54 L260.09 424.49 L261.01 423.50 L261.92 422.56 L262.84 421.68 L263.75 420.85 L264.67 420.09 L265.58 419.38 L266.49 418.72 L267.41 418.13 L268.32 417.59 L269.24 417.11 L270.15 416.68 L271.06 416.31 L271.98 416.00 L272.89 415.74 L273.81 415.54 L274.72 415.40 L275.64 415.32 L276.55 415.29 L277.46 415.32 L278.38 415.40 L279.29 415.54 L280.21 415.74 L281.12 416.00 L282.04 416.31 L282.95 416.68 L283.86 417.11 L284.78 417.59 L285.69 418.13 L286.61 418.72 L287.52 419.38 L288.43 420.09 L289.35 420.85 L290.26 421.68 L291.18 422.56 L292.09 423.50 L293.01 424.49 L293.92 425.54 L294.83 426.65 L295.75 427.81 L296.66 429.04 L297.58 430.31 L298.49 431.65 L299.40 433.04 L300.32 434.49 L301.23 435.99 L302.15 437.56 L303.06 439.18 L303.98 440.85 L304.89 442.58 L305.80 444.37 L306.72 446.22 L307.63 448.12 L308.55 450.08 L309.46 452.10 L310.38 454.17 L311.29 456.30 L312.20 458.49 L313.12 460.74 L314.03 463.04 L314.95 465.39 L315.86 467.81 L316.77 470.28 L317.69 472.81 L318.60 475.39 L319.52 478.03 L320.43 480.73 L321.35 483.49 L322.26 486.30 L323.17 483.49 L324.09 480.73 L325.00 478.03 L325.92 475.39 L326.83 472.81 L327.75 470.28 L328.66 467.81 L329.57 465.39 L330.49 463.04 L331.40 460.74 L332.32 458.49 L333.23 456.30 L334.14 454.17 L335.06 452.10 L335.97 450.08 L336.89 448.12 L337.80 446.22 L338.72 444.37 L339.63 442.58 L340.54 440.85 L341.46 439.18 L342.37 437.56 L343.29 435.99 L344.20 434.49 L345.12 433.04 L346.03 431.65 L346.94 430.31 L347.86 429.04 L348.77 427.81 L349.69 426.65 L350.60 425.54 L351.51 424.49 L352.43 423.50 L353.34 422.56 L354.26 421.68 L355.17 420.85 L356.09 420.09 L357.00 419.38 L357.91 418.72 L358.83 418.13 L359.74 417.59 L360.66 417.11 L361.57 416.68 L362.48 416.31 L363.40 416.00 L364.31 415.74 L365.23 415.54 L366.14 415.40 L367.06 415.32 L367.97 415.29 L368.88 415.32 L369.80 415.40 L370.71 415.54 L371.63 415.74 L372.54 416.00 L373.46 416.31 L374.37 416.68 L375.28 417.11 L376.20 417.59 L377.11 418.13 L378.03 418.72 L378.94 419.38 L379.85 420.09 L380.77 420.85 L381.68 421.68 L382.60 422.56 L383.51 423.50 L384.43 424.49 L385.34 425.54 L386.25 426.65 L387.17 427.81 L388.08 429.04 L389.00 430.31 L389.91 431.65 L390.82 433.04 L391.74 434.49 L392.65 435.99 L393.57 437.56 L394.48 439.18 L395.40 440.85 L396.31 442.58 L397.22 444.37 L398.14 446.22 L399.05 448.12 L399.97 450.08 L400.88 452.10 L401.80 454.17 L402.71 456.30 L403.62 458.49 L404.54 460.74 L405.45 463.04 L406.37 465.39 L407.28 467.81 L408.19 470.28 L409.11 472.81 L410.02 475.39 L410.94 478.03 L411.85 480.73 L412.77 483.49 L413.68 486.30 L414.59 483.49 L415.51 480.73 L416.42 478.03 L417.34 475.39 L418.25 472.81 L419.17 470.28 L420.08 467.81 L420.99 465.39 L421.91 463.04 L422.82 460.74 L423.74 458.49 L424.65 456.30 L425.56 454.17 L426.48 452.10 L427.39 450.08 L428.31 448.12 L429.22 446.22 L430.14 444.37 L431.05 442.58 L431.96 440.85 L432.88 439.18 L433.79 437.56 L434.71 435.99 L435.62 434.49 L436.54 433.04 L437.45 431.65 L438.36 430.31 L439.28 429.04 L440.19 427.81 L441.11 426.65 L442.02 425.54 L442.93 424.49 L443.85 423.50 L444.76 422.56 L445.68 421.68 L446.59 420.85 L447.51 420.09 L448.42 419.38 L449.33 418.72 L450.25 418.13 L451.16 417.59 L452.08 417.11 L452.99 416.68 L453.90 416.31 L454.82 416.00 L455.73 415.74 L456.65 415.54 L457.56 415.40 L458.48 415.32 L459.39 415.29 L460.30 415.32 L461.22 415.40 L462.13 415.54 L463.05 415.74 L463.96 416.00 L464.88 416.31 L465.79 416.68 L466.70 417.11 L467.62 417.59 L468.53 418.13 L469.45 418.72 L470.36 419.38 L471.27 420.09 L472.19 420.85 L473.10 421.68 L474.02 422.56 L474.93 423.50 L475.85 424.49 L476.76 425.54 L477.67 426.65 L478.59 427.81 L479.50 429.04 L480.42 430.31 L481.33 431.65 L482.25 433.04 L483.16 434.49 L484.07 435.99 L484.99 437.56 L485.90 439.18 L486.82 440.85 L487.73 442.58 L488.64 444.37 L489.56 446.22 L490.47 448.12 L491.39 450.08 L492.30 452.10 L493.22 454.17 L494.13 456.30 L495.04 458.49 L495.96 460.74 L496.87 463.04 L497.79 465.39 L498.70 467.81 L499.61 470.28 L500.53 472.81 L501.44 475.39 L502.36 478.03 L503.27 480.73 L504.19 483.49 L505.10 486.30 L506.01 483.49 L506.93 480.73 L507.84 478.03 L508.76 475.39 L509.67 472.81 L510.59 470.28 L511.50 467.81 L512.41 465.39 L513.33 463.04 L514.24 460.74 L515.16 458.49 L516.07 456.30 L516.98 454.17 L517.90 452.10 L518.81 450.08 L519.73 448.12 L520.64 446.22 L521.56 444.37 L522.47 442.58 L523.38 440.85 L524.30 439.18 L525.21 437.56 L526.13 435.99 L527.04 434.49 L527.95 433.04 L528.87 431.65 L529.78 430.31 L530.70 429.04 L531.61 427.81 L532.53 426.65 L533.44 425.54 L534.35 424.49 L535.27 423.50 L536.18 422.56 L537.10 421.68 L538.01 420.85 L538.93 420.09 L539.84 419.38 L540.75 418.72 L541.67 418.13 L542.58 417.59 L543.50 417.11 L544.41 416.68 L545.32 416.31 L546.24 416.00 L547.15 415.74 L548.07 415.54 L548.98 415.40 L549.90 415.32 L550.81 415.29 L551.72 415.32 L552.64 415.40 L553.55 415.54 L554.47 415.74 L555.38 416.00 L556.30 416.31 L557.21 416.68 L558.12 417.11 L559.04 417.59 L559.95 418.13 L560.87 418.72 L561.78 419.38 L562.69 420.09 L563.61 420.85 L564.52 421.68 L565.44 422.56 L566.35 423.50 L567.27 424.49 L568.18 425.54 L569.09 426.65 L570.01 427.81 L570.92 429.04 L571.84 430.31 L572.75 431.65 L573.66 433.04 L574.58 434.49 L575.49 435.99 L576.41 437.56 L577.32 439.18 L578.24 440.85 L579.15 442.58 L580.06 444.37 L580.98 446.22 L581.89 448.12 L582.81 450.08 L583.72 452.10 L584.64 454.17 L585.55 456.30 L586.46 458.49 L587.38 460.74 L588.29 463.04 L589.21 465.39 L590.12 467.81 L591.03 470.28 L591.95 472.81 L592.86 475.39 L593.78 478.03 L594.69 480.73 L595.61 483.49 L596.52 486.30" stroke="#279872" stroke-width="2.5" fill="none" stroke-linejoin="round" stroke-linecap="round"/>
<path d="M93.1 142.0V486" stroke="#231f20" stroke-width="2.6" stroke-dasharray="8.9 6.34" fill="none"/>
<rect x="47.2" y="47.3" width="549.9" height="439.5" fill="none" stroke="#231f20" stroke-width="2.4"/>
<circle cx="93.2" cy="357.4" r="5.35" fill="#ea4c34" stroke="#2a1210" stroke-width="1.9"/>
<circle cx="93.05" cy="417.2" r="5.2" fill="#1cae72" stroke="#0d2a1e" stroke-width="1.9"/>
<circle cx="93.05" cy="454.4" r="5.25" fill="#b01c48" stroke="#2c0a14" stroke-width="1.9"/>
<path d="M232.80 265.00L115.58 346.23" stroke="#231f20" stroke-width="2.35" fill="none"/><path d="M101.20 356.20L114.04 340.49L120.42 349.70Z" fill="#231f20" stroke="#231f20" stroke-width="0.8" stroke-linejoin="round"/>
<path d="M233.50 343.80L116.23 406.54" stroke="#231f20" stroke-width="2.35" fill="none"/><path d="M100.80 414.80L115.35 400.66L120.64 410.54Z" fill="#231f20" stroke="#231f20" stroke-width="0.8" stroke-linejoin="round"/>
<path d="M239.10 381.70L116.65 444.88" stroke="#231f20" stroke-width="2.35" fill="none"/><path d="M101.10 452.90L115.86 438.98L121.00 448.94Z" fill="#231f20" stroke="#231f20" stroke-width="0.8" stroke-linejoin="round"/>
<path d="M174.6 535.50H208.0" stroke="#c9534a" stroke-width="2.4" stroke-linecap="round"/>
<path d="M174.6 560.02H208.0" stroke="#737584" stroke-width="2.4" stroke-linecap="round"/>
<path d="M174.6 584.54H208.0" stroke="#f1d27c" stroke-width="2.4" stroke-linecap="round"/>
<path d="M174.6 609.06H208.0" stroke="#8c1e42" stroke-width="2.4" stroke-linecap="round"/>
<path d="M174.6 633.58H208.0" stroke="#7e4b92" stroke-width="2.4" stroke-linecap="round"/>
<path d="M174.6 658.10H208.0" stroke="#1f6796" stroke-width="2.4" stroke-linecap="round"/>
<path d="M174.6 682.62H208.0" stroke="#279872" stroke-width="2.4" stroke-linecap="round"/>
<g font-family="Liberation Sans" font-weight="bold" fill="#231f20" stroke="#231f20" stroke-width="0.45" style="filter:grayscale(1)" xml:space="preserve">
<text x="151.85" y="24.50" font-size="17.4" textLength="60.71" lengthAdjust="spacingAndGlyphs">Current</text>
<text x="216.86" y="24.50" font-size="17.4" textLength="51.02" lengthAdjust="spacingAndGlyphs">Ripple</text>
<text x="271.54" y="23.90" font-size="16.5" textLength="4.58" lengthAdjust="spacingAndGlyphs">(</text>
<text x="278.17" y="24.50" font-size="17.4" textLength="10.52" lengthAdjust="spacingAndGlyphs">V</text>
<text x="289.51" y="29.50" font-size="15.2" textLength="14.48" lengthAdjust="spacingAndGlyphs">IN</text>
<text x="307.17" y="24.50" font-size="17.4" textLength="8.12" lengthAdjust="spacingAndGlyphs">=</text>

<text x="325.93" y="24.50" font-size="17.4" textLength="9.25" lengthAdjust="spacingAndGlyphs">2</text>
<text x="339.74" y="24.50" font-size="17.4" textLength="15.80" lengthAdjust="spacingAndGlyphs">V,</text>
<text x="359.98" y="24.50" font-size="17.4" textLength="9.96" lengthAdjust="spacingAndGlyphs">F</text>
<text x="370.82" y="29.60" font-size="13.8" textLength="7.04" lengthAdjust="spacingAndGlyphs">s</text>
<text x="380.51" y="24.50" font-size="17.4" textLength="8.94" lengthAdjust="spacingAndGlyphs">=</text>
<text x="393.14" y="24.50" font-size="17.4" textLength="28.39" lengthAdjust="spacingAndGlyphs">600</text>
<text x="427.62" y="24.50" font-size="17.4" textLength="30.72" lengthAdjust="spacingAndGlyphs">kHz</text>
<text x="459.93" y="23.90" font-size="16.5" textLength="3.51" lengthAdjust="spacingAndGlyphs">)</text>
<text x="466.78" y="23.90" font-size="16.5" textLength="3.63" lengthAdjust="spacingAndGlyphs">(</text>
<text x="472.57" y="24.50" font-size="17.4" textLength="13.29" lengthAdjust="spacingAndGlyphs">A</text>
<text x="489.23" y="23.90" font-size="16.5" textLength="3.51" lengthAdjust="spacingAndGlyphs">)</text>
<text x="18.10" y="96.71" font-size="16.8" textLength="20.14" lengthAdjust="spacingAndGlyphs">90</text>
<text x="18.29" y="140.32" font-size="16.8" textLength="19.95" lengthAdjust="spacingAndGlyphs">80</text>
<text x="18.41" y="183.93" font-size="16.8" textLength="19.82" lengthAdjust="spacingAndGlyphs">70</text>
<text x="18.10" y="227.54" font-size="16.8" textLength="20.14" lengthAdjust="spacingAndGlyphs">60</text>
<text x="18.29" y="271.15" font-size="16.8" textLength="19.95" lengthAdjust="spacingAndGlyphs">50</text>
<text x="18.47" y="314.76" font-size="16.8" textLength="19.76" lengthAdjust="spacingAndGlyphs">40</text>
<text x="18.47" y="358.37" font-size="16.8" textLength="19.76" lengthAdjust="spacingAndGlyphs">30</text>
<text x="18.29" y="401.98" font-size="16.8" textLength="19.95" lengthAdjust="spacingAndGlyphs">20</text>
<text x="28.52" y="489.20" font-size="16.8" textLength="9.76" lengthAdjust="spacingAndGlyphs">0</text>

<text x="17.39" y="53.10" font-size="16.8" textLength="20.57" lengthAdjust="spacingAndGlyphs">00</text>

<text x="28.11" y="445.59" font-size="16.8" textLength="10.00" lengthAdjust="spacingAndGlyphs">0</text>
<text x="42.41" y="507.80" font-size="16.8" textLength="10.59" lengthAdjust="spacingAndGlyphs">0</text>
<text x="134.48" y="507.80" font-size="16.8" textLength="10.05" lengthAdjust="spacingAndGlyphs">2</text>
<text x="180.95" y="507.80" font-size="16.8" textLength="9.07" lengthAdjust="spacingAndGlyphs">3</text>
<text x="226.06" y="507.80" font-size="16.8" textLength="10.13" lengthAdjust="spacingAndGlyphs">4</text>
<text x="272.59" y="507.80" font-size="16.8" textLength="9.07" lengthAdjust="spacingAndGlyphs">5</text>
<text x="318.06" y="507.80" font-size="16.8" textLength="9.91" lengthAdjust="spacingAndGlyphs">6</text>
<text x="364.01" y="507.80" font-size="16.8" textLength="10.00" lengthAdjust="spacingAndGlyphs">7</text>
<text x="409.89" y="507.80" font-size="16.8" textLength="9.85" lengthAdjust="spacingAndGlyphs">8</text>
<text x="455.53" y="507.80" font-size="16.8" textLength="10.37" lengthAdjust="spacingAndGlyphs">9</text>


<text x="505.17" y="507.80" font-size="16.8" textLength="10.47" lengthAdjust="spacingAndGlyphs">0</text>



<text x="597.61" y="507.80" font-size="16.8" textLength="9.48" lengthAdjust="spacingAndGlyphs">2</text>
<text x="611.88" y="489.30" font-size="16.8" textLength="9.90" lengthAdjust="spacingAndGlyphs">V</text>
<text x="622.64" y="492.90" font-size="13.0" textLength="25.46" lengthAdjust="spacingAndGlyphs">OUT</text>
<text x="649.65" y="489.60" font-size="16.8" textLength="6.25" lengthAdjust="spacingAndGlyphs">,</text>
<text x="658.33" y="488.90" font-size="18.4" textLength="6.09" lengthAdjust="spacingAndGlyphs">[</text>
<text x="666.36" y="489.60" font-size="17.6" textLength="10.83" lengthAdjust="spacingAndGlyphs">V</text>
<text x="679.97" y="488.90" font-size="18.4" textLength="5.24" lengthAdjust="spacingAndGlyphs">]</text>
<text x="59.67" y="126.30" font-size="16.8" textLength="10.21" lengthAdjust="spacingAndGlyphs">V</text>
<text x="70.61" y="130.60" font-size="15.2" textLength="27.31" lengthAdjust="spacingAndGlyphs">OUT</text>
<text x="102.14" y="126.30" font-size="16.8" textLength="8.47" lengthAdjust="spacingAndGlyphs">=</text>

<text x="120.80" y="126.30" font-size="16.8" textLength="15.81" lengthAdjust="spacingAndGlyphs">.0</text>
<text x="140.07" y="126.30" font-size="16.8" textLength="10.52" lengthAdjust="spacingAndGlyphs">V</text>
<text x="239.89" y="264.70" font-size="16.8" textLength="23.86" lengthAdjust="spacingAndGlyphs">dIL</text>
<text x="264.59" y="269.70" font-size="14.6" textLength="17.83" lengthAdjust="spacingAndGlyphs">DL</text>
<text x="286.56" y="264.70" font-size="16.8" textLength="8.24" lengthAdjust="spacingAndGlyphs">=</text>
<text x="298.87" y="264.70" font-size="16.8" textLength="34.45" lengthAdjust="spacingAndGlyphs">30.6</text>
<text x="337.75" y="264.70" font-size="16.8" textLength="11.54" lengthAdjust="spacingAndGlyphs">A</text>
<text x="246.29" y="340.60" font-size="16.8" textLength="23.86" lengthAdjust="spacingAndGlyphs">dIL</text>
<text x="271.69" y="344.40" font-size="14.8" textLength="8.50" lengthAdjust="spacingAndGlyphs">O</text>
<text x="283.84" y="340.60" font-size="16.8" textLength="8.59" lengthAdjust="spacingAndGlyphs">=</text>

<text x="303.87" y="340.60" font-size="16.8" textLength="22.87" lengthAdjust="spacingAndGlyphs">6.6</text>
<text x="331.04" y="340.60" font-size="16.8" textLength="11.65" lengthAdjust="spacingAndGlyphs">A</text>
<text x="246.28" y="385.20" font-size="16.8" textLength="24.28" lengthAdjust="spacingAndGlyphs">dIL</text>
<text x="271.60" y="389.70" font-size="14.6" textLength="17.51" lengthAdjust="spacingAndGlyphs">CL</text>
<text x="292.56" y="385.20" font-size="16.8" textLength="8.24" lengthAdjust="spacingAndGlyphs">=</text>
<text x="305.10" y="385.20" font-size="16.8" textLength="21.81" lengthAdjust="spacingAndGlyphs">7.7</text>
<text x="330.95" y="385.20" font-size="16.8" textLength="11.33" lengthAdjust="spacingAndGlyphs">A</text>

<text x="222.93" y="541.40" font-size="16.8" textLength="44.25" lengthAdjust="spacingAndGlyphs">ph DL</text>
<text x="271.97" y="541.40" font-size="16.8" textLength="58.98" lengthAdjust="spacingAndGlyphs">= 50 nH</text>
<text x="334.27" y="541.40" font-size="16.8" textLength="65.99" lengthAdjust="spacingAndGlyphs">(Lm = 0)</text>

<text x="223.13" y="565.77" font-size="16.8" textLength="44.15" lengthAdjust="spacingAndGlyphs">ph CL</text>
<text x="271.79" y="565.77" font-size="16.8" textLength="87.66" lengthAdjust="spacingAndGlyphs">= 6 × 50 nH,</text>
<text x="363.61" y="565.77" font-size="16.8" textLength="44.10" lengthAdjust="spacingAndGlyphs">(Lm =</text>
<text x="412.31" y="565.77" font-size="16.8" textLength="52.87" lengthAdjust="spacingAndGlyphs">20 nH)</text>

<text x="223.13" y="590.14" font-size="16.8" textLength="44.15" lengthAdjust="spacingAndGlyphs">ph CL</text>
<text x="271.79" y="590.14" font-size="16.8" textLength="87.66" lengthAdjust="spacingAndGlyphs">= 6 × 50 nH,</text>
<text x="363.61" y="590.14" font-size="16.8" textLength="44.10" lengthAdjust="spacingAndGlyphs">(Lm =</text>
<text x="412.31" y="590.14" font-size="16.8" textLength="52.87" lengthAdjust="spacingAndGlyphs">50 nH)</text>

<text x="223.13" y="614.51" font-size="16.8" textLength="44.15" lengthAdjust="spacingAndGlyphs">ph CL</text>
<text x="271.79" y="614.51" font-size="16.8" textLength="87.66" lengthAdjust="spacingAndGlyphs">= 6 × 50 nH,</text>
<text x="363.61" y="614.51" font-size="16.8" textLength="44.10" lengthAdjust="spacingAndGlyphs">(Lm =</text>
<text x="412.29" y="614.51" font-size="16.8" textLength="64.21" lengthAdjust="spacingAndGlyphs">200 nH)</text>

<text x="223.13" y="638.88" font-size="16.8" textLength="44.15" lengthAdjust="spacingAndGlyphs">ph CL</text>
<text x="271.79" y="638.88" font-size="16.8" textLength="87.66" lengthAdjust="spacingAndGlyphs">= 6 × 50 nH,</text>
<text x="363.61" y="638.88" font-size="16.8" textLength="44.10" lengthAdjust="spacingAndGlyphs">(Lm =</text>

<text x="422.68" y="638.88" font-size="16.8" textLength="28.90" lengthAdjust="spacingAndGlyphs">µH)</text>

<text x="223.13" y="663.25" font-size="16.8" textLength="44.15" lengthAdjust="spacingAndGlyphs">ph CL</text>
<text x="271.79" y="663.25" font-size="16.8" textLength="87.66" lengthAdjust="spacingAndGlyphs">= 6 × 50 nH,</text>
<text x="363.61" y="663.25" font-size="16.8" textLength="44.10" lengthAdjust="spacingAndGlyphs">(Lm =</text>

<text x="420.05" y="663.25" font-size="16.8" textLength="41.49" lengthAdjust="spacingAndGlyphs">0 µH)</text>
<text x="212.78" y="687.62" font-size="16.8" textLength="8.98" lengthAdjust="spacingAndGlyphs">6</text>
<text x="226.14" y="687.62" font-size="16.8" textLength="63.82" lengthAdjust="spacingAndGlyphs">Phases,</text>
<text x="295.36" y="687.62" font-size="16.8" textLength="113.29" lengthAdjust="spacingAndGlyphs">Total Io Ripple</text>
</g>
<path d="M322.05 12.32H324.80V24.50H322.05V16.22L320.10 15.32V13.32ZM13.05 41.34H15.80V53.10H13.05V45.24L11.00 44.34V42.34ZM23.95 433.83H26.70V445.59H23.95V437.73L22.00 436.83V434.83ZM93.05 496.04H95.80V507.80H93.05V499.94L91.00 499.04V497.04ZM501.35 496.04H504.10V507.80H501.35V499.94L498.90 499.04V497.04ZM549.05 496.04H551.80V507.80H549.05V499.94L547.00 499.04V497.04ZM555.95 496.04H558.70V507.80H555.95V499.94L553.90 499.04V497.04ZM593.05 496.04H595.80V507.80H593.05V499.94L591.00 499.04V497.04ZM117.45 114.54H120.20V126.30H117.45V118.44L115.40 117.54V115.54ZM299.05 328.84H301.80V340.60H299.05V332.74L297.10 331.84V329.84ZM215.55 529.64H218.30V541.40H215.55V533.54L213.20 532.64V530.64ZM215.55 554.01H218.30V565.77H215.55V557.91L213.20 557.01V555.01ZM215.55 578.38H218.30V590.14H215.55V582.28L213.20 581.38V579.38ZM215.55 602.75H218.30V614.51H215.55V606.65L213.20 605.75V603.75ZM215.55 627.12H218.30V638.88H215.55V631.02L213.20 630.12V628.12ZM415.35 627.12H418.10V638.88H415.35V631.02L413.30 630.12V628.12ZM215.55 651.49H218.30V663.25H215.55V655.39L213.20 654.49V652.49ZM415.55 651.49H418.30V663.25H415.55V655.39L413.50 654.49V652.49Z" fill="#231f20"/>
</svg>
</body></html>
